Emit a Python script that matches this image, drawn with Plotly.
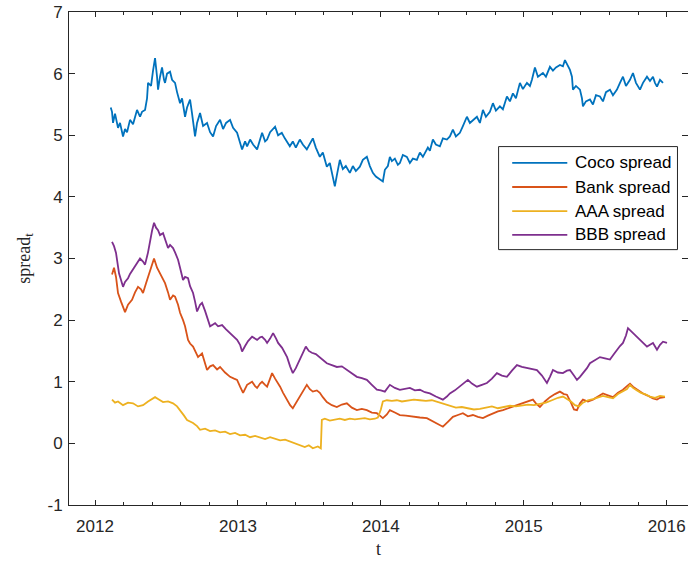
import plotly.graph_objects as go

# ---- data: spreads over time (decimal years) ----
coco_t = [
    2012.110, 2012.119, 2012.126, 2012.140, 2012.161, 2012.175, 2012.196, 2012.210, 2012.224, 2012.245,
    2012.266, 2012.294, 2012.315, 2012.329, 2012.350, 2012.364, 2012.371, 2012.392, 2012.406, 2012.420,
    2012.434, 2012.441, 2012.455, 2012.469, 2012.483, 2012.490, 2012.504, 2012.525, 2012.539, 2012.560,
    2012.574, 2012.595, 2012.609, 2012.630, 2012.644, 2012.665, 2012.679, 2012.700, 2012.714, 2012.735,
    2012.756, 2012.784, 2012.805, 2012.826, 2012.847, 2012.875, 2012.896, 2012.917, 2012.945, 2012.966,
    2012.994, 2013.015, 2013.029, 2013.050, 2013.064, 2013.085, 2013.106, 2013.134, 2013.155, 2013.169,
    2013.190, 2013.204, 2013.225, 2013.260, 2013.281, 2013.307, 2013.328, 2013.363, 2013.384, 2013.405,
    2013.433, 2013.454, 2013.482, 2013.503, 2013.524, 2013.545, 2013.573, 2013.594, 2013.622, 2013.643,
    2013.657, 2013.678, 2013.692, 2013.713, 2013.734, 2013.755, 2013.783, 2013.804, 2013.825, 2013.853,
    2013.874, 2013.902, 2013.923, 2013.944, 2013.965, 2013.993, 2014.014, 2014.028, 2014.049, 2014.063,
    2014.077, 2014.098, 2014.119, 2014.133, 2014.154, 2014.182, 2014.203, 2014.224, 2014.252, 2014.273,
    2014.294, 2014.308, 2014.329, 2014.343, 2014.364, 2014.385, 2014.413, 2014.434, 2014.462, 2014.483,
    2014.504, 2014.525, 2014.553, 2014.574, 2014.602, 2014.623, 2014.644, 2014.672, 2014.693, 2014.714,
    2014.735, 2014.763, 2014.784, 2014.805, 2014.833, 2014.854, 2014.882, 2014.903, 2014.924, 2014.945,
    2014.973, 2014.994, 2015.022, 2015.043, 2015.057, 2015.078, 2015.099, 2015.134, 2015.155, 2015.183,
    2015.204, 2015.225, 2015.253, 2015.274, 2015.288, 2015.302, 2015.323, 2015.337, 2015.344, 2015.365,
    2015.393, 2015.407, 2015.414, 2015.435, 2015.463, 2015.484, 2015.505, 2015.533, 2015.554, 2015.575,
    2015.603, 2015.624, 2015.652, 2015.673, 2015.694, 2015.715, 2015.743, 2015.764, 2015.785, 2015.813,
    2015.834, 2015.862, 2015.883, 2015.904, 2015.918, 2015.932, 2015.953, 2015.974,
]
coco = [
    5.45, 5.38, 5.20, 5.35, 5.12, 5.20, 4.98, 5.10, 5.05, 5.25,
    5.18, 5.41, 5.30, 5.38, 5.41, 5.60, 5.85, 5.80, 6.05, 6.25,
    5.95, 5.74, 5.95, 6.10, 5.90, 5.85, 6.00, 6.03, 5.90, 5.85,
    5.70, 5.52, 5.60, 5.30, 5.45, 5.58, 5.35, 4.98, 5.20, 5.36,
    5.15, 5.20, 5.05, 4.98, 5.15, 5.25, 5.10, 5.20, 5.25, 5.12,
    5.04, 4.90, 4.77, 4.90, 4.82, 4.93, 4.85, 4.77, 4.95, 5.04,
    4.90, 4.93, 5.05, 5.14, 5.00, 5.04, 4.95, 4.82, 4.90, 4.80,
    4.93, 4.85, 4.77, 4.85, 4.95, 4.80, 4.65, 4.72, 4.49, 4.55,
    4.40, 4.17, 4.35, 4.60, 4.45, 4.50, 4.39, 4.50, 4.42, 4.49,
    4.60, 4.65, 4.50, 4.39, 4.33, 4.28, 4.25, 4.44, 4.50, 4.65,
    4.58, 4.62, 4.52, 4.55, 4.68, 4.65, 4.55, 4.62, 4.60, 4.72,
    4.65, 4.71, 4.80, 4.75, 4.93, 4.85, 4.82, 4.95, 4.93, 4.98,
    5.09, 4.98, 5.04, 5.15, 5.30, 5.20, 5.25, 5.30, 5.20, 5.41,
    5.30, 5.38, 5.52, 5.40, 5.47, 5.42, 5.63, 5.55, 5.68, 5.60,
    5.85, 5.75, 5.85, 5.80, 5.90, 6.10, 5.95, 6.01, 5.95, 6.11,
    6.05, 6.10, 6.14, 6.12, 6.22, 6.15, 6.06, 5.95, 5.74, 5.80,
    5.74, 5.60, 5.47, 5.55, 5.58, 5.50, 5.65, 5.63, 5.55, 5.70,
    5.74, 5.65, 5.74, 5.85, 5.95, 5.80, 5.90, 6.01, 5.85, 5.74,
    5.85, 5.95, 5.88, 5.95, 5.85, 5.79, 5.90, 5.85,
]

bank_t = [
    2012.119, 2012.133, 2012.147, 2012.161, 2012.182, 2012.210, 2012.231, 2012.259, 2012.280, 2012.301,
    2012.322, 2012.336, 2012.357, 2012.371, 2012.392, 2012.413, 2012.434, 2012.455, 2012.476, 2012.490,
    2012.511, 2012.525, 2012.546, 2012.560, 2012.581, 2012.595, 2012.616, 2012.630, 2012.651, 2012.665,
    2012.686, 2012.707, 2012.721, 2012.749, 2012.770, 2012.784, 2012.805, 2012.826, 2012.854, 2012.875,
    2012.910, 2012.945, 2012.973, 2012.994, 2013.015, 2013.036, 2013.064, 2013.099, 2013.120, 2013.134,
    2013.155, 2013.169, 2013.190, 2013.204, 2013.225, 2013.239, 2013.260, 2013.274, 2013.295, 2013.316,
    2013.344, 2013.365, 2013.384, 2013.405, 2013.433, 2013.461, 2013.482, 2013.503, 2013.524, 2013.552,
    2013.573, 2013.594, 2013.622, 2013.657, 2013.692, 2013.727, 2013.762, 2013.797, 2013.832, 2013.867,
    2013.902, 2013.937, 2013.972, 2013.993, 2014.014, 2014.042, 2014.063, 2014.098, 2014.133, 2014.175,
    2014.224, 2014.273, 2014.322, 2014.357, 2014.392, 2014.434, 2014.469, 2014.504, 2014.539, 2014.574,
    2014.609, 2014.644, 2014.679, 2014.714, 2014.749, 2014.784, 2014.819, 2014.854, 2014.889, 2014.924,
    2014.959, 2014.994, 2015.029, 2015.064, 2015.085, 2015.113, 2015.148, 2015.183, 2015.218, 2015.253,
    2015.281, 2015.302, 2015.330, 2015.351, 2015.372, 2015.393, 2015.414, 2015.449, 2015.484, 2015.519,
    2015.554, 2015.589, 2015.624, 2015.659, 2015.694, 2015.722, 2015.743, 2015.764, 2015.792, 2015.813,
    2015.834, 2015.862, 2015.883, 2015.904, 2015.932, 2015.953, 2015.988,
]
bank = [
    2.74, 2.85, 2.70, 2.44, 2.30, 2.13, 2.25, 2.33, 2.45, 2.54,
    2.50, 2.44, 2.60, 2.70, 2.85, 3.00, 2.85, 2.76, 2.65, 2.60,
    2.45, 2.33, 2.40, 2.38, 2.25, 2.12, 2.00, 1.90, 1.68, 1.62,
    1.57, 1.45, 1.40, 1.46, 1.30, 1.19, 1.25, 1.27, 1.20, 1.24,
    1.15, 1.08, 1.05, 1.03, 0.92, 0.82, 0.95, 1.00, 0.93, 0.90,
    0.97, 1.00, 0.95, 0.92, 1.05, 1.14, 1.05, 1.00, 0.92, 0.82,
    0.70, 0.62, 0.57, 0.65, 0.75, 0.88, 0.95, 0.88, 0.84, 0.86,
    0.82, 0.75, 0.67, 0.62, 0.59, 0.63, 0.65, 0.58, 0.54, 0.56,
    0.54, 0.50, 0.49, 0.45, 0.41, 0.47, 0.54, 0.50, 0.46, 0.45,
    0.43, 0.42, 0.41, 0.37, 0.33, 0.27, 0.35, 0.43, 0.46, 0.49,
    0.44, 0.46, 0.43, 0.41, 0.45, 0.49, 0.52, 0.54, 0.57, 0.59,
    0.62, 0.65, 0.68, 0.71, 0.65, 0.59, 0.68, 0.75, 0.80, 0.84,
    0.80, 0.79, 0.66, 0.55, 0.54, 0.65, 0.71, 0.68, 0.71, 0.76,
    0.81, 0.78, 0.75, 0.82, 0.87, 0.93, 0.97, 0.92, 0.87, 0.84,
    0.81, 0.78, 0.75, 0.73, 0.71, 0.74, 0.75,
]

aaa_t = [
    2012.119, 2012.140, 2012.161, 2012.196, 2012.231, 2012.266, 2012.301, 2012.336, 2012.371, 2012.399,
    2012.420, 2012.441, 2012.476, 2012.511, 2012.546, 2012.574, 2012.595, 2012.623, 2012.644, 2012.665,
    2012.686, 2012.714, 2012.735, 2012.770, 2012.805, 2012.840, 2012.875, 2012.910, 2012.945, 2012.980,
    2013.015, 2013.050, 2013.085, 2013.120, 2013.155, 2013.190, 2013.225, 2013.260, 2013.295, 2013.330,
    2013.365, 2013.400, 2013.433, 2013.468, 2013.496, 2013.524, 2013.559, 2013.580, 2013.587, 2013.608,
    2013.643, 2013.678, 2013.713, 2013.748, 2013.783, 2013.818, 2013.853, 2013.888, 2013.923, 2013.958,
    2013.979, 2014.000, 2014.014, 2014.042, 2014.077, 2014.112, 2014.147, 2014.189, 2014.231, 2014.273,
    2014.315, 2014.357, 2014.399, 2014.441, 2014.483, 2014.525, 2014.566, 2014.609, 2014.651, 2014.693,
    2014.735, 2014.777, 2014.819, 2014.861, 2014.903, 2014.945, 2014.987, 2015.029, 2015.071, 2015.113,
    2015.155, 2015.197, 2015.239, 2015.274, 2015.302, 2015.330, 2015.358, 2015.386, 2015.414, 2015.449,
    2015.484, 2015.519, 2015.554, 2015.589, 2015.624, 2015.659, 2015.694, 2015.722, 2015.743, 2015.764,
    2015.792, 2015.820, 2015.848, 2015.883, 2015.918, 2015.953, 2015.988,
]
aaa = [
    0.71, 0.66, 0.68, 0.62, 0.66, 0.65, 0.60, 0.62, 0.68, 0.72,
    0.75, 0.72, 0.67, 0.68, 0.65, 0.60, 0.54, 0.45, 0.38, 0.36,
    0.33, 0.28, 0.22, 0.24, 0.20, 0.21, 0.18, 0.19, 0.15, 0.17,
    0.13, 0.14, 0.10, 0.12, 0.10, 0.07, 0.10, 0.08, 0.05, 0.06,
    0.03, 0.00, -0.02, -0.06, -0.03, -0.08, -0.05, -0.08, 0.38, 0.40,
    0.37, 0.38, 0.40, 0.38, 0.40, 0.39, 0.40, 0.41, 0.39, 0.40,
    0.42, 0.55, 0.68, 0.70, 0.69, 0.70, 0.68, 0.70, 0.71, 0.70,
    0.69, 0.70, 0.67, 0.63, 0.60, 0.58, 0.59, 0.57, 0.55, 0.56,
    0.58, 0.60, 0.57, 0.59, 0.61, 0.60, 0.62, 0.63, 0.62, 0.64,
    0.66, 0.70, 0.74, 0.76, 0.72, 0.68, 0.62, 0.60, 0.66, 0.70,
    0.72, 0.74, 0.77, 0.75, 0.73, 0.80, 0.84, 0.88, 0.95, 0.90,
    0.86, 0.82, 0.80, 0.76, 0.74, 0.77, 0.76,
]

bbb_t = [
    2012.119, 2012.133, 2012.147, 2012.168, 2012.182, 2012.196, 2012.210, 2012.231, 2012.245, 2012.266,
    2012.287, 2012.315, 2012.336, 2012.350, 2012.371, 2012.385, 2012.399, 2012.413, 2012.427, 2012.441,
    2012.455, 2012.476, 2012.490, 2012.511, 2012.525, 2012.546, 2012.560, 2012.581, 2012.595, 2012.616,
    2012.630, 2012.651, 2012.665, 2012.686, 2012.700, 2012.714, 2012.735, 2012.749, 2012.770, 2012.784,
    2012.805, 2012.826, 2012.840, 2012.861, 2012.889, 2012.917, 2012.945, 2012.973, 2012.994, 2013.015,
    2013.029, 2013.050, 2013.071, 2013.099, 2013.120, 2013.134, 2013.155, 2013.169, 2013.190, 2013.204,
    2013.225, 2013.246, 2013.267, 2013.281, 2013.309, 2013.330, 2013.344, 2013.365, 2013.384, 2013.405,
    2013.433, 2013.454, 2013.475, 2013.496, 2013.517, 2013.545, 2013.573, 2013.594, 2013.622, 2013.657,
    2013.692, 2013.727, 2013.762, 2013.797, 2013.832, 2013.867, 2013.902, 2013.937, 2013.972, 2014.000,
    2014.028, 2014.063, 2014.098, 2014.133, 2014.168, 2014.203, 2014.238, 2014.273, 2014.308, 2014.343,
    2014.385, 2014.434, 2014.462, 2014.483, 2014.518, 2014.553, 2014.581, 2014.609, 2014.637, 2014.672,
    2014.707, 2014.742, 2014.777, 2014.812, 2014.847, 2014.882, 2014.917, 2014.952, 2014.987, 2015.022,
    2015.057, 2015.092, 2015.127, 2015.162, 2015.183, 2015.204, 2015.239, 2015.274, 2015.302, 2015.323,
    2015.351, 2015.372, 2015.393, 2015.414, 2015.442, 2015.463, 2015.498, 2015.533, 2015.568, 2015.603,
    2015.631, 2015.652, 2015.673, 2015.694, 2015.715, 2015.729, 2015.750, 2015.764, 2015.792, 2015.813,
    2015.834, 2015.862, 2015.883, 2015.904, 2015.932, 2015.953, 2015.974, 2016.002,
]
bbb = [
    3.27, 3.20, 3.09, 2.76, 2.65, 2.54, 2.62, 2.68, 2.75, 2.82,
    2.90, 3.00, 2.95, 2.90, 3.10, 3.30, 3.45, 3.58, 3.50, 3.46,
    3.38, 3.41, 3.30, 3.17, 3.22, 3.17, 3.10, 2.98, 2.85, 2.65,
    2.70, 2.68, 2.55, 2.44, 2.30, 2.14, 2.25, 2.28, 2.15, 2.06,
    1.90, 1.93, 1.95, 1.90, 1.92, 1.85, 1.79, 1.72, 1.68, 1.60,
    1.49, 1.58, 1.66, 1.73, 1.70, 1.68, 1.72, 1.73, 1.68, 1.63,
    1.70, 1.79, 1.70, 1.63, 1.55, 1.47, 1.40, 1.25, 1.14, 1.22,
    1.36, 1.45, 1.57, 1.50, 1.47, 1.45, 1.40, 1.35, 1.30, 1.27,
    1.24, 1.25, 1.19, 1.13, 1.08, 1.06, 1.03, 0.95, 0.87, 0.86,
    0.84, 0.95, 0.90, 0.87, 0.88, 0.90, 0.86, 0.87, 0.83, 0.81,
    0.76, 0.71, 0.76, 0.81, 0.86, 0.92, 0.98, 1.03, 0.97, 0.92,
    0.95, 0.98, 1.05, 1.14, 1.10, 1.08, 1.18, 1.27, 1.24, 1.22,
    1.20, 1.19, 1.10, 0.98, 1.08, 1.19, 1.15, 1.14, 1.18, 1.19,
    1.10, 1.03, 1.08, 1.14, 1.22, 1.30, 1.35, 1.40, 1.38, 1.36,
    1.45, 1.52, 1.58, 1.63, 1.75, 1.87, 1.82, 1.79, 1.72, 1.68,
    1.62, 1.57, 1.60, 1.63, 1.52, 1.60, 1.65, 1.63,
]

series_names = ["Coco spread", "Bank spread", "AAA spread", "BBB spread"]
series_colors = ["#0072BD", "#D95319", "#EDB120", "#7E2F8E"]
series_data = [(coco_t, coco), (bank_t, bank), (aaa_t, aaa), (bbb_t, bbb)]

y_tick_values = [-1, 0, 1, 2, 3, 4, 5, 6, 7]
y_tick_labels = ["-1", "0", "1", "2", "3", "4", "5", "6", "7"]

AXIS_COLOR = "#262626"
SANS = "Liberation Sans, Arial, sans-serif"
SERIF = "Liberation Serif, Times New Roman, serif"
LINE_W = 1.8

fig = go.Figure()
for name, color, (t, v) in zip(series_names, series_colors, series_data):
    fig.add_trace(go.Scatter(x=t, y=v, mode="lines", name=name,
                             line=dict(color=color, width=LINE_W)))

# Boxed legend in the upper right of the axes
leg_x0, leg_x1, leg_top, leg_bot = 0.694, 0.983, 0.727, 0.518
row_y = [0.694, 0.645, 0.596, 0.548]
shapes = [dict(type="rect", xref="paper", yref="paper",
               x0=leg_x0, x1=leg_x1, y0=leg_bot, y1=leg_top,
               line=dict(color=AXIS_COLOR, width=1), fillcolor="white", layer="above")]
annotations = []
for name, color, ry in zip(series_names, series_colors, row_y):
    shapes.append(dict(type="line", xref="paper", yref="paper",
                       x0=0.716, x1=0.805, y0=ry, y1=ry,
                       line=dict(color=color, width=LINE_W), layer="above"))
    annotations.append(dict(xref="paper", yref="paper", x=0.814, y=ry,
                            text=name, showarrow=False, xanchor="left", yanchor="middle",
                            font=dict(family=SANS, size=17, color="#000000")))

fig.update_layout(
    width=688, height=564,
    margin=dict(l=69, r=0, t=12, b=59),
    plot_bgcolor="white", paper_bgcolor="white",
    showlegend=False,
    font=dict(family=SANS, size=17, color=AXIS_COLOR),
    shapes=shapes, annotations=annotations,
)
fig.update_xaxes(
    range=[2011.818, 2016.149], tickmode="linear", tick0=2012, dtick=1, tickformat="d",
    ticks="inside", ticklen=5, tickcolor=AXIS_COLOR, tickwidth=1, ticklabelstandoff=6,
    showline=True, linecolor=AXIS_COLOR, linewidth=1, mirror="ticks",
    showgrid=False, zeroline=False,
    minor=dict(tick0=2012, dtick=0.2, ticks="inside", ticklen=3,
               tickcolor=AXIS_COLOR, showgrid=False),
    title=dict(text="t", font=dict(family=SERIF, size=18, color=AXIS_COLOR), standoff=6),
)
fig.update_yaxes(
    range=[-1, 7], tickmode="array", tickvals=y_tick_values, ticktext=y_tick_labels,
    ticks="inside", ticklen=6, tickcolor=AXIS_COLOR, tickwidth=1, ticklabelstandoff=2,
    showline=True, linecolor=AXIS_COLOR, linewidth=1, mirror="ticks",
    showgrid=False, zeroline=False,
    title=dict(text="spread<sub>t</sub>", font=dict(family=SERIF, size=18, color=AXIS_COLOR),
               standoff=12),
)

fig.write_html("out.html")
